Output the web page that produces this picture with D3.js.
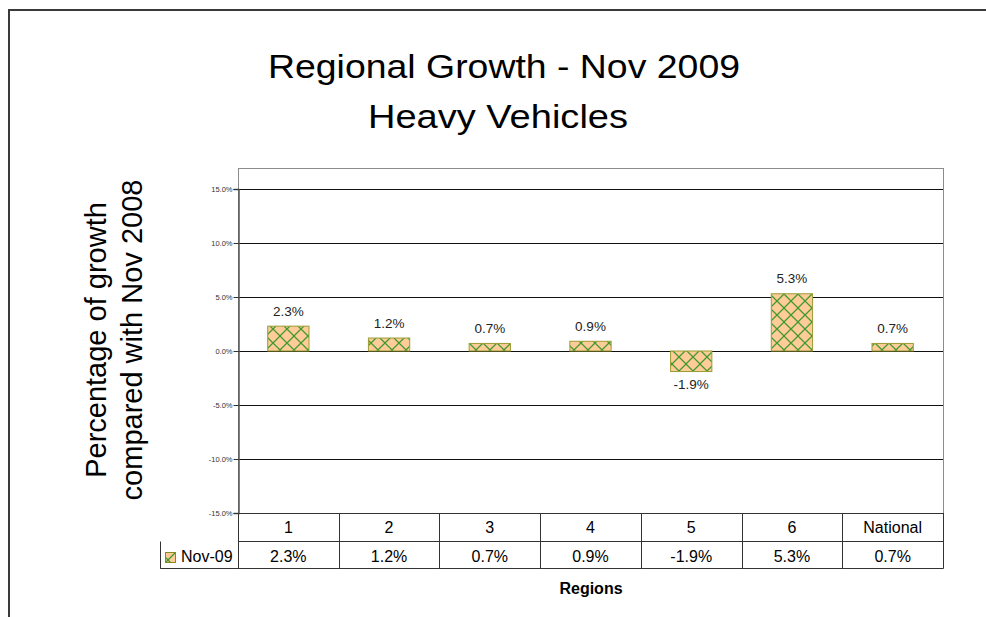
<!DOCTYPE html>
<html>
<head>
<meta charset="utf-8">
<script src="https://cdn.jsdelivr.net/npm/d3@7"></script>
<style>
  body { margin: 0; background: #fff; }
  svg { display: block; font-family: 'Liberation Sans', Arial, sans-serif; }
</style>
</head>
<body>
<svg id="chart"></svg>
<script>
const regions = ['1', '2', '3', '4', '5', '6', 'National'];
const growth = [2.3, 1.2, 0.7, 0.9, -1.9, 5.3, 0.7];
const seriesName = 'Nov-09';
const yTicks = [-15, -10, -5, 0, 5, 10, 15];
const titleLines = ['Regional Growth - Nov 2009', 'Heavy Vehicles'];
const yTitleLines = ['Percentage of growth', 'compared with Nov 2008'];

const W = 986, H = 617;
const plot = { left: 238, right: 943, top: 168, bottom: 513 };
const rowH = 28;
const pct = v => v.toFixed(1) + '%';

const svg = d3.select('#chart').attr('width', W).attr('height', H);

// hatch pattern for bars
const pat = svg.append('defs').append('pattern')
  .attr('id', 'hatch')
  .attr('patternUnits', 'userSpaceOnUse')
  .attr('width', 14).attr('height', 14);
pat.append('rect').attr('width', 14).attr('height', 14).attr('fill', '#ffcc99');
pat.append('path')
  .attr('d', 'M0,0L14,14M14,0L0,14M-1,13L1,15M13,-1L15,1')
  .attr('stroke', '#3f9a2e').attr('stroke-width', 1.25).attr('fill', 'none');

// outer frame
svg.append('path')
  .attr('d', `M9,${H}V10H${W}`)
  .attr('fill', 'none').attr('stroke', '#3a3a3a').attr('stroke-width', 2);

// title
const tl = svg.append('g').attr('text-anchor', 'middle').attr('fill', '#000');
tl.append('text').attr('x', 504).attr('y', 78).attr('font-size', 33)
  .attr('textLength', 472).attr('lengthAdjust', 'spacingAndGlyphs').text(titleLines[0]);
tl.append('text').attr('x', 498).attr('y', 128).attr('font-size', 33)
  .attr('textLength', 260).attr('lengthAdjust', 'spacingAndGlyphs').text(titleLines[1]);

// y title
yTitleLines.forEach((t, i) => {
  svg.append('text')
    .attr('transform', `translate(${106 + i * 36},340) rotate(-90)`)
    .attr('text-anchor', 'middle').attr('font-size', 29).text(t);
});

const x = d3.scaleBand()
  .domain(regions)
  .range([plot.left, plot.right])
  .paddingInner(0.59)
  .paddingOuter(0.295);
const step = x.step();

const y = d3.scaleLinear()
  .domain([-15, 15])
  .range([plot.bottom, 189]);

// plot frame
svg.append('rect')
  .attr('x', plot.left + 0.5).attr('y', plot.top + 0.5)
  .attr('width', plot.right - plot.left).attr('height', plot.bottom - plot.top)
  .attr('fill', 'none').attr('stroke', '#8c8c8c');

// gridlines
svg.append('g').selectAll('line').data(yTicks).join('line')
  .attr('x1', plot.left).attr('x2', plot.right)
  .attr('y1', d => Math.round(y(d)) + 0.5).attr('y2', d => Math.round(y(d)) + 0.5)
  .attr('stroke', '#111');

// y axis
const yAxis = svg.append('g')
  .attr('transform', `translate(${plot.left + 0.5},0)`)
  .call(d3.axisLeft(y).tickValues(yTicks).tickSize(5).tickPadding(1).tickFormat(pct));
yAxis.select('.domain').attr('stroke', '#555').attr('stroke-width', 1.5);
yAxis.selectAll('.tick line').attr('stroke', '#333');
yAxis.selectAll('.tick text').attr('font-size', 7.5).attr('fill', '#333')
  .attr('font-family', "'Liberation Sans', Arial, sans-serif");
yAxis.selectAll('.tick').attr('transform', d => `translate(0,${Math.round(y(d)) + 0.5})`);

// bars
const data = regions.map((r, i) => ({ region: r, value: growth[i] }));
svg.append('g').selectAll('rect').data(data).join('rect')
  .attr('x', d => x(d.region))
  .attr('width', x.bandwidth())
  .attr('y', d => y(Math.max(0, d.value)))
  .attr('height', d => Math.abs(y(d.value) - y(0)))
  .attr('fill', 'url(#hatch)')
  .attr('stroke', '#9c9c33').attr('stroke-width', 1);

// value labels
svg.append('g').selectAll('text').data(data).join('text')
  .attr('x', d => x(d.region) + x.bandwidth() / 2)
  .attr('y', d => d.value >= 0 ? y(d.value) - 10.5 : y(d.value) + 17.5)
  .attr('text-anchor', 'middle').attr('font-size', 13.5).attr('fill', '#222')
  .text(d => pct(d.value));

// data table
const tbl = svg.append('g').attr('stroke', '#333').attr('fill', 'none');
const t0 = plot.bottom + 0.5, t1 = t0 + rowH, t2 = t1 + 27;
tbl.append('path').attr('d', `M${plot.left + 0.5},${t1}H${plot.right + 0.5}M160.5,${t2}H${plot.right + 0.5}M160.5,${t1}V${t2}H${plot.left + 0.5}V${t1}`);
tbl.selectAll('line.col').data(regions).join('line')
  .attr('x1', d => Math.round(x(d) + x.bandwidth() / 2 + step / 2) + 0.5)
  .attr('x2', d => Math.round(x(d) + x.bandwidth() / 2 + step / 2) + 0.5)
  .attr('y1', t0).attr('y2', t2);
tbl.append('line').attr('x1', plot.left + 0.5).attr('x2', plot.left + 0.5).attr('y1', t0).attr('y2', t2);
tbl.append('line').attr('x1', plot.left).attr('x2', plot.right + 1).attr('y1', t0).attr('y2', t0);

const tt = svg.append('g').attr('text-anchor', 'middle').attr('font-size', 16).attr('fill', '#000');
tt.selectAll('text.cat').data(regions).join('text')
  .attr('x', d => x(d) + x.bandwidth() / 2).attr('y', 533)
  .text(d => d);
tt.selectAll('text.val').data(data).join('text')
  .attr('x', d => x(d.region) + x.bandwidth() / 2).attr('y', 562)
  .text(d => pct(d.value));

// legend key in table
svg.append('rect').attr('x', 165.5).attr('y', 552.5).attr('width', 10).attr('height', 10)
  .attr('fill', 'url(#hatch)').attr('stroke', '#8a8a22');
svg.append('text').attr('x', 181).attr('y', 562).attr('font-size', 16).text(seriesName);

// x title
svg.append('text').attr('x', 591).attr('y', 594).attr('text-anchor', 'middle')
  .attr('font-size', 16).attr('font-weight', 'bold').text('Regions');
</script>
</body>
</html>
